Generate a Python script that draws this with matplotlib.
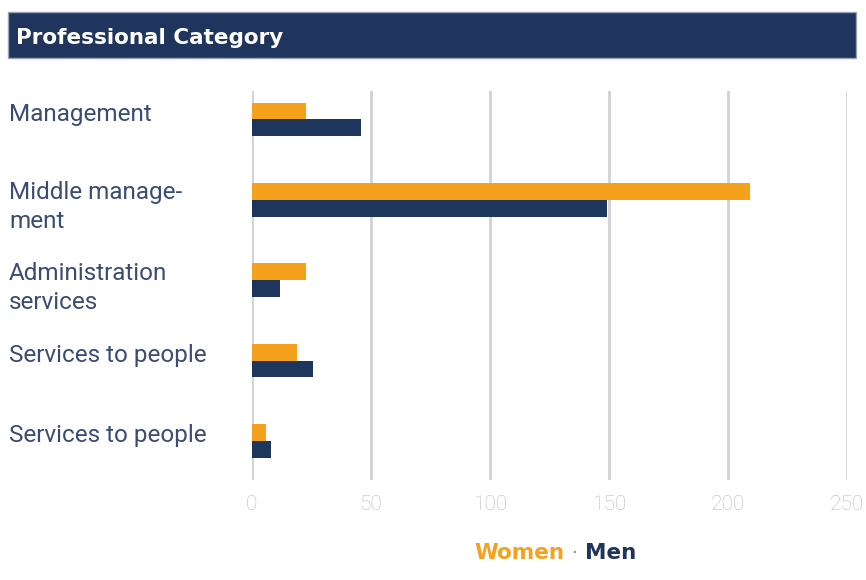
import numpy as np
import matplotlib.pyplot as plt
from matplotlib.patches import Rectangle

categories = ['Management', 'Middle manage-\nment', 'Administration\nservices',
              'Services to people', 'Services to people']
women = [23, 209, 23, 19, 6]
men = [46, 149, 12, 26, 8]
ticks = [0, 50, 100, 150, 200, 250]

orange = '#F5A11C'
navy = '#1E355C'
label_col = '#3b4c73'

fig = plt.figure(figsize=(8.66, 5.8), dpi=100)

# title banner
fig.patches.append(Rectangle((8/866, 1 - 58/580), 848/866, 46/580,
                             transform=fig.transFigure, facecolor='#1F355E',
                             edgecolor='#9aa3b5', linewidth=1))
fig.text(16/866, 1 - 38/580, 'Professional Category', color='white',
         fontsize=15.5, fontweight='bold', family='DejaVu Sans', va='center', ha='left')

ax = fig.add_axes([251.5/866, 1 - 480/580, 595.8/866, 389/580])
y = np.arange(len(categories))
h = 0.209
ax.barh(y - h/2, women, height=h, color=orange, zorder=3)
ax.barh(y + h/2, men, height=h, color=navy, zorder=3)

ax.set_xlim(0, 250)
ax.set_ylim(4.485, -0.354)
ax.set_xticks(ticks)
ax.set_xticklabels([str(t) for t in ticks], color='#bdbdbd', fontsize=15,
                   family='Roboto', fontweight='light')
ax.tick_params(axis='x', length=0, pad=11)
ax.set_yticks([])
for s in ax.spines.values():
    s.set_visible(False)
ax.grid(axis='x', color='#d2d2d2', linewidth=2, zorder=0)

# category labels, left aligned
offsets = [-5, 7, 8, -5, -6]
for i, lab in enumerate(categories):
    ax.annotate(lab, xy=(9/866, i), xycoords=('figure fraction', 'data'),
                xytext=(0, -offsets[i] * 0.72), textcoords='offset points',
                ha='left', va='center', fontsize=17.5, color=label_col,
                family='Roboto', linespacing=1.33,
                annotation_clip=False)

# legend text
ly = 1 - 553/580
fig.text(564/866, ly, 'Women', color=orange, fontsize=15.5, fontweight='bold',
         family='DejaVu Sans', ha='right', va='center')
fig.text(574/866, ly, '·', color='#888888', fontsize=13, ha='center', va='center')
fig.text(585/866, ly, 'Men', color=navy, fontsize=15.5, fontweight='bold',
         family='DejaVu Sans', ha='left', va='center')

fig.savefig('out.png', dpi=100)
